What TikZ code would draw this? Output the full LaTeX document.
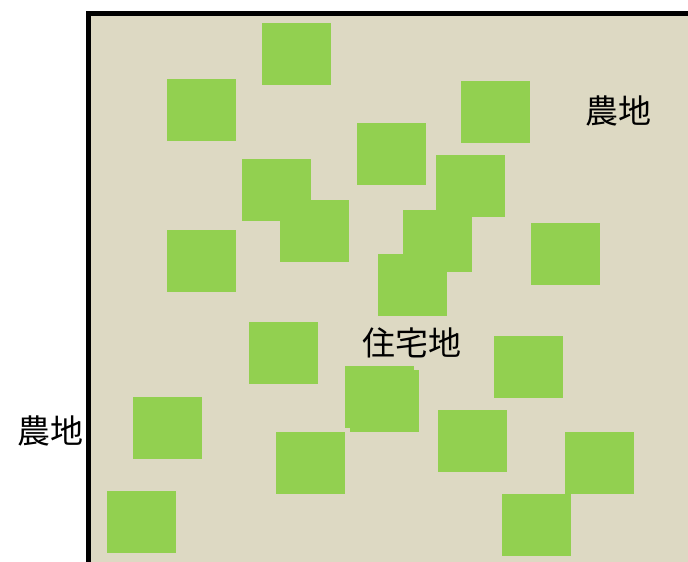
\documentclass[tikz,border=0pt]{standalone}
\usepackage{fontspec}
\newfontfamily\cjk{Noto Sans CJK JP}
\definecolor{landbg}{HTML}{DDD9C3}
\definecolor{plot}{HTML}{92D050}
\tikzset{
  plotbox/.style={fill=plot, draw=none, minimum width=69pt, minimum height=62pt, inner sep=0pt, outer sep=0pt, anchor=north west},
  lbl/.style={font=\cjk\fontsize{33}{33}\selectfont, text=black, inner sep=0pt}
}
\begin{document}
\begin{tikzpicture}[x=1pt,y=-1pt]
\useasboundingbox (0,0) rectangle (688,562);
\fill[landbg] (88,13) rectangle (688,562);
\draw[line width=5pt, line cap=rect] (688,13) -- (88,13) -- (88,562);
\node[plotbox] (p1) at (262,23) {};
\node[plotbox] (p2) at (167,79) {};
\node[plotbox] (p3) at (461,81) {};
\node[plotbox] (p4) at (357,123) {};
\node[plotbox] (p5) at (242,159) {};
\node[plotbox] (p6) at (436,155) {};
\node[plotbox] (p7) at (280,200) {};
\node[plotbox] (p8) at (403,210) {};
\node[plotbox] (p9) at (531,223) {};
\node[plotbox] (p10) at (167,230) {};
\node[plotbox] (p11) at (378,254) {};
\node[plotbox] (p12) at (249,322) {};
\node[plotbox] (p13) at (494,336) {};
\node[plotbox] (p14) at (345,366) {};
\node[plotbox] (p15) at (350,370) {};
\node[plotbox] (p16) at (133,397) {};
\node[plotbox] (p17) at (276,432) {};
\node[plotbox] (p18) at (438,410) {};
\node[plotbox] (p19) at (565,432) {};
\node[plotbox] (p20) at (107,491) {};
\node[plotbox] (p21) at (502,494) {};
\node[lbl] (farmTR) at (618,111) {農地};
\node[lbl] (farmL) at (50,431) {農地};
\node[lbl] (resid) at (412,343) {住宅地};
\end{tikzpicture}
\end{document}
